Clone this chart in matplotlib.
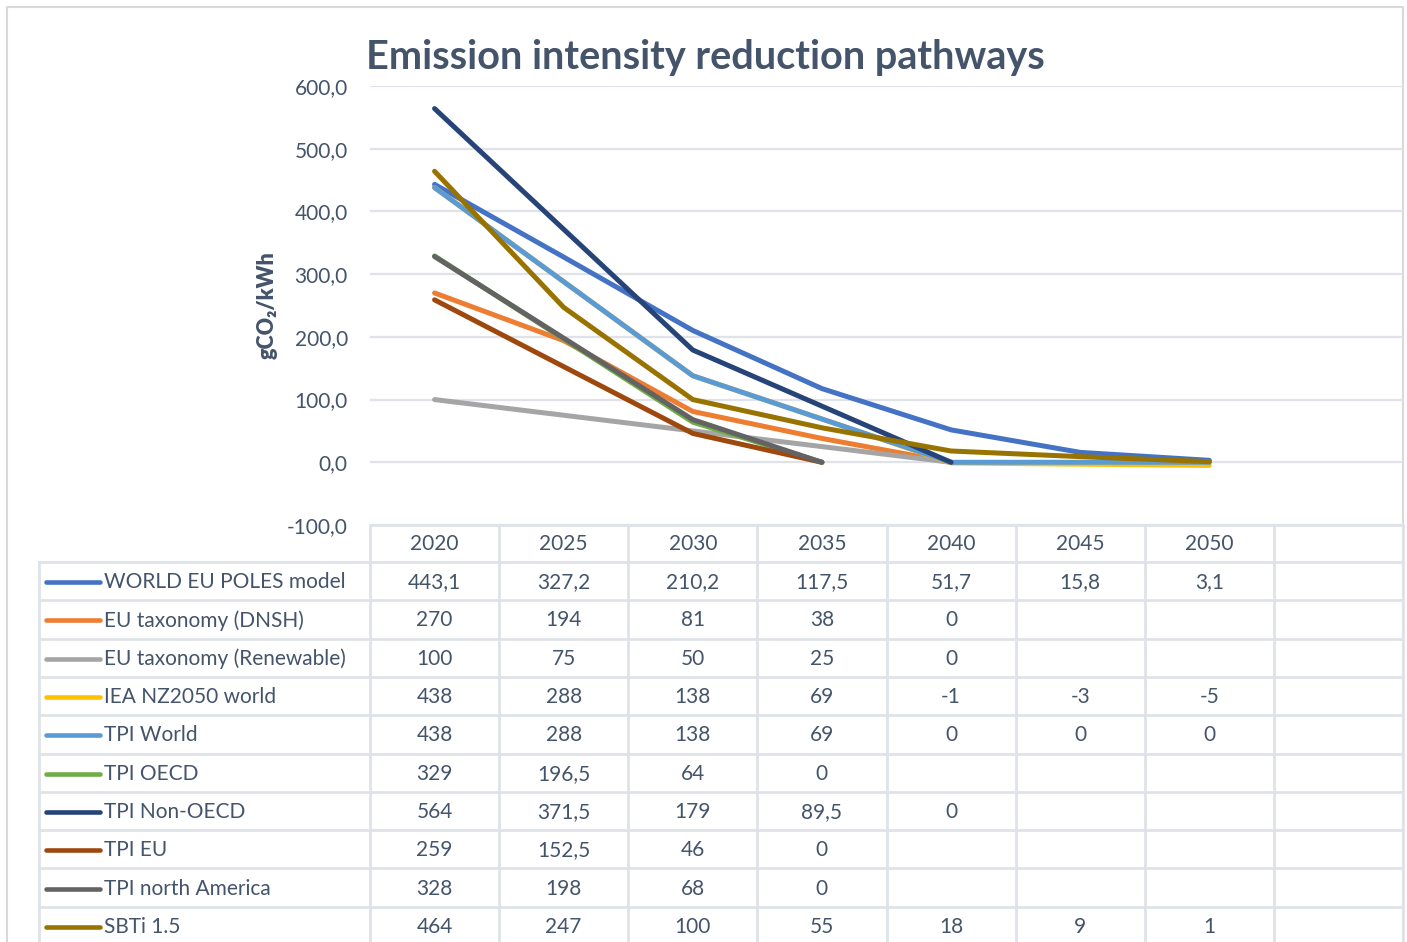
import numpy as np
import matplotlib
matplotlib.use("Agg")
import matplotlib.pyplot as plt
from matplotlib.ticker import FuncFormatter

plt.rcParams['font.family'] = ['Lato', 'DejaVu Sans']

# data
years = ["2020", "2025", "2030", "2035", "2040", "2045", "2050", ""]
series_names = [
    "WORLD EU POLES model", "EU taxonomy (DNSH)", "EU taxonomy (Renewable)",
    "IEA NZ2050 world", "TPI World", "TPI OECD", "TPI Non-OECD", "TPI EU",
    "TPI north America", "SBTi 1.5",
]
nan = np.nan
world_poles = [443.1, 327.2, 210.2, 117.5, 51.7, 15.8, 3.1, nan]
eu_dnsh = [270, 194, 81, 38, 0, nan, nan, nan]
eu_renew = [100, 75, 50, 25, 0, nan, nan, nan]
iea_nz = [438, 288, 138, 69, -1, -3, -5, nan]
tpi_world = [438, 288, 138, 69, 0, 0, 0, nan]
tpi_oecd = [329, 196.5, 64, 0, nan, nan, nan, nan]
tpi_non_oecd = [564, 371.5, 179, 89.5, 0, nan, nan, nan]
tpi_eu = [259, 152.5, 46, 0, nan, nan, nan, nan]
tpi_na = [328, 198, 68, 0, nan, nan, nan, nan]
sbti = [464, 247, 100, 55, 18, 9, 1, nan]
all_series = [world_poles, eu_dnsh, eu_renew, iea_nz, tpi_world, tpi_oecd,
              tpi_non_oecd, tpi_eu, tpi_na, sbti]
colors = ["#4472C4", "#ED7D31", "#A5A5A5", "#FFC000", "#5B9BD5", "#70AD47",
          "#264478", "#9E480E", "#636363", "#997300"]

txt = "#44546A"
grid = "#DFE3E9"
W, H = 1407, 942
fig = plt.figure(figsize=(W / 100, H / 100), dpi=100)

# overlay in pixel units for the frame and data table
ov = fig.add_axes([0, 0, 1, 1])
ov.set_xlim(0, W)
ov.set_ylim(H, 0)
ov.axis("off")

x_left, x_right = 370, 1403
y_top, y_bot = 86, 525
ax = fig.add_axes([x_left / W, 1 - y_bot / H, (x_right - x_left) / W, (y_bot - y_top) / H])
ax.set_xlim(-0.5, len(years) - 0.5)
ax.set_ylim(-100, 600)
ax.set_yticks(np.arange(-100, 601, 100))
ax.yaxis.set_major_formatter(FuncFormatter(lambda v, p: f"{v:.1f}".replace(".", ",")))
ax.tick_params(axis="y", length=0, pad=16, labelsize=15, labelcolor=txt)
ax.set_xticks([])
for s in ax.spines.values():
    s.set_visible(False)
ax.grid(axis="y", color=grid, linewidth=1.6)
ax.set_axisbelow(True)
ax.patch.set_alpha(0)

xs = np.arange(len(years))
for vals, c in zip(all_series, colors):
    ax.plot(xs, vals, color=c, linewidth=3.6, solid_capstyle="round",
            solid_joinstyle="round")

ax.set_ylabel("gCO\u2082/kWh", fontsize=15.5, fontweight="heavy", color=txt, labelpad=7)

fig.text(705 / W, 1 - 57 / H, "Emission intensity reduction pathways", ha="center",
         va="center", fontsize=28.5, fontweight="bold", color=txt)

# outer frame
ov.plot([7, 7, 1403, 1403], [H + 5, 7, 7, H + 5], color="#D9D9D9", lw=1.5)

# data table
col_w = (x_right - x_left) / len(years)
row_top = 562
row_h = 38.3
n_rows = len(series_names)
bottom = row_top + row_h * n_rows
ov.plot([x_left, x_right], [y_bot, y_bot], color=grid, lw=2)
for i in range(n_rows + 1):
    y = row_top + i * row_h
    ov.plot([39, x_right], [y, y], color=grid, lw=2)
ov.plot([39, 39], [row_top, bottom], color=grid, lw=2)
for j in range(len(years) + 1):
    x = x_left + j * col_w
    ov.plot([x, x], [y_bot, bottom], color=grid, lw=2)

for j, yr in enumerate(years):
    ov.text(x_left + (j + 0.5) * col_w, (y_bot + row_top) / 2 + 1, yr,
            ha="center", va="center", fontsize=15, color=txt)


def fmt(v):
    if np.isnan(v):
        return ""
    if float(v).is_integer():
        return str(int(v))
    return f"{v}".replace(".", ",")


for i, (name, vals, c) in enumerate(zip(series_names, all_series, colors)):
    yc = row_top + (i + 0.5) * row_h + 1
    ov.plot([46, 100], [yc, yc], color=c, lw=3.3, solid_capstyle="round")
    ov.text(104, yc, name, ha="left", va="center", fontsize=15, color=txt)
    for j, v in enumerate(vals):
        ov.text(x_left + (j + 0.5) * col_w, yc, fmt(v), ha="center", va="center",
                fontsize=15, color=txt)

fig.savefig("out.png", dpi=100)
